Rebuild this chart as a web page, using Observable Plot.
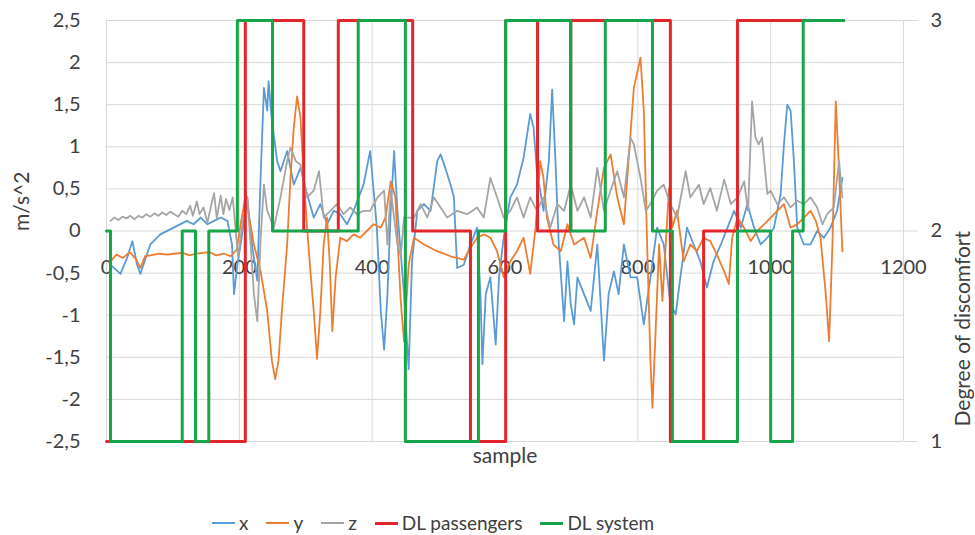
<!DOCTYPE html>
<html>
<head>
<meta charset="utf-8">
<script src="https://cdn.jsdelivr.net/npm/d3@7"></script>
<script src="https://cdn.jsdelivr.net/npm/@observablehq/plot@0.6"></script>
<style>
  html, body { margin: 0; padding: 0; background: #fff; }
  #chart { width: 975px; height: 535px; position: relative; font-family: Lato, "Open Sans", sans-serif; }
  .legend { display: flex; align-items: center; padding-left: 212px; padding-top: 21px; height: 24px; font-size: 19px; color: #404040; line-height: 22px; }
  .item { display: flex; align-items: center; margin-right: 18px; }
  .sw { display: inline-block; width: 23px; margin-right: 4px; }
</style>
</head>
<body>
<div id="chart"></div>
<script>
// ---- data ----
const xTicks = [0, 200, 400, 600, 800, 1000, 1200];
const yTicks = [-2.5, -2, -1.5, -1, -0.5, 0, 0.5, 1, 1.5, 2, 2.5];
const degreeTicks = [1, 2, 3];

const seriesNames = ["x", "y", "z", "DL passengers", "DL system"];
const seriesColors = ["#5B9BD5", "#ED7D31", "#A5A5A5", "#E3262B", "#16A64A"];

// acceleration x [sample, m/s^2]
const seriesX = [[6,-0.40],[21,-0.51],[31,-0.32],[39,-0.12],[46,-0.40],[51,-0.51],[59,-0.32],[66,-0.16],[81,-0.04],[101,0.04],[121,0.12],[131,0.08],[142,0.16],[152,0.08],[162,0.12],[172,0.16],[182,0.12],[189,-0.16],[192,-0.75],[197,-0.40],[202,-0.16],[212,0.40],[219,-0.16],[227,-0.59],[232,0.63],[237,1.70],[242,1.43],[244,1.78],[249,1.31],[257,0.83],[262,0.71],[272,0.95],[282,0.55],[292,0.75],[302,0.44],[312,0.16],[322,0.32],[332,0.08],[342,0.24],[352,0.20],[362,0.08],[372,0.24],[387,0.55],[397,0.95],[407,0.04],[413,-0.95],[418,-1.41],[423,-0.75],[428,0.24],[433,0.95],[438,0.24],[448,-0.75],[455,-1.64],[460,-0.36],[468,0.24],[478,0.32],[488,0.24],[498,0.83],[503,0.91],[510,0.75],[518,0.55],[523,0.40],[528,-0.44],[538,-0.40],[548,-0.16],[558,0.04],[563,-0.75],[566,-1.58],[571,-0.75],[578,-0.55],[586,-1.35],[591,-0.55],[598,-0.08],[608,0.40],[618,0.55],[628,0.87],[638,1.39],[643,1.23],[648,0.71],[653,0.48],[658,0.24],[666,0.83],[671,1.68],[676,0.83],[681,-0.16],[689,-1.07],[694,-0.36],[699,-0.87],[704,-1.11],[709,-0.55],[719,-0.75],[729,-0.95],[739,-0.16],[749,-1.54],[756,-0.75],[764,-0.48],[771,-0.75],[779,-0.16],[789,-0.55],[799,-0.55],[809,-1.11],[819,-0.55],[829,0.04],[839,-0.16],[849,-0.87],[857,-0.99],[864,-0.55],[874,0.04],[884,-0.16],[894,-0.36],[904,-0.67],[914,-0.36],[925,-0.16],[935,0.04],[945,0.24],[955,0.04],[965,0.32],[975,0.04],[985,-0.16],[995,-0.08],[1005,0.04],[1015,0.44],[1020,1.03],[1025,1.50],[1030,1.43],[1035,0.83],[1040,0.04],[1050,-0.16],[1060,-0.16],[1070,0.00],[1080,-0.08],[1090,0.04],[1100,0.24],[1108,0.63]];

// acceleration y
const seriesY = [[6,-0.36],[15,-0.28],[25,-0.32],[35,-0.25],[45,-0.34],[51,-0.44],[58,-0.30],[66,-0.29],[80,-0.27],[92,-0.28],[101,-0.27],[115,-0.26],[125,-0.29],[135,-0.27],[145,-0.26],[155,-0.25],[165,-0.29],[177,-0.27],[187,-0.30],[196,-0.22],[202,0.08],[210,0.45],[214,0.20],[222,-0.16],[232,-0.48],[242,-0.95],[249,-1.54],[254,-1.76],[259,-1.54],[264,-0.95],[272,-0.16],[277,0.63],[282,1.23],[287,1.60],[292,1.35],[297,0.63],[302,0.04],[307,-0.48],[312,-0.95],[317,-1.52],[322,-0.95],[327,-0.16],[332,0.16],[336,-0.36],[340,-1.19],[345,-0.55],[352,-0.08],[362,-0.12],[372,-0.04],[382,-0.08],[392,0.00],[402,0.08],[413,0.04],[420,0.16],[428,0.59],[435,0.40],[443,-0.83],[448,-1.31],[455,-0.40],[463,-0.08],[478,-0.16],[498,-0.24],[518,-0.30],[538,-0.34],[548,-0.20],[558,-0.08],[568,-0.04],[578,-0.08],[588,-0.24],[598,-0.55],[608,-0.36],[618,-0.24],[628,-0.08],[638,-0.51],[646,0.04],[653,0.83],[658,0.63],[663,0.16],[673,-0.16],[684,-0.24],[694,0.08],[704,-0.16],[719,-0.08],[729,-0.32],[739,0.24],[749,0.75],[759,0.91],[769,0.40],[779,0.08],[786,0.83],[794,1.70],[804,2.06],[809,1.43],[814,-0.16],[819,-1.54],[822,-2.10],[827,-1.15],[832,-0.16],[837,-0.83],[842,-0.16],[847,0.51],[852,0.04],[859,0.24],[869,-0.36],[879,-0.16],[889,-0.24],[899,-0.08],[909,-0.12],[919,-0.28],[930,-0.48],[937,-0.63],[942,-0.08],[950,0.16],[960,0.04],[970,-0.12],[980,0.00],[990,0.08],[1000,0.16],[1010,0.24],[1020,0.32],[1030,0.04],[1040,0.08],[1050,0.16],[1060,0.24],[1068,0.12],[1075,-0.08],[1083,-0.75],[1088,-1.31],[1093,-0.16],[1098,1.54],[1103,0.71],[1108,-0.24]];

// acceleration z
const seriesZ = [[6,0.12],[12,0.16],[18,0.13],[24,0.17],[30,0.15],[36,0.18],[42,0.14],[48,0.18],[54,0.16],[60,0.20],[66,0.17],[72,0.21],[78,0.18],[84,0.22],[90,0.19],[96,0.23],[102,0.20],[108,0.17],[114,0.24],[120,0.20],[126,0.30],[130,0.18],[136,0.35],[140,0.20],[146,0.28],[152,0.10],[158,0.32],[162,0.45],[166,0.15],[172,0.42],[176,0.20],[180,0.38],[185,0.25],[190,0.40],[194,0.05],[198,-0.30],[205,0.10],[212,0.40],[217,-0.16],[222,-0.75],[227,-1.07],[232,-0.10],[237,0.55],[242,0.24],[252,0.04],[262,0.40],[272,0.83],[277,0.99],[285,0.83],[292,0.79],[302,0.40],[312,0.48],[320,0.71],[327,0.16],[337,0.24],[347,0.32],[357,0.20],[367,0.28],[377,0.20],[387,0.24],[397,0.24],[408,0.40],[418,0.48],[423,-0.16],[428,0.48],[438,-0.16],[443,-0.30],[448,0.16],[463,0.16],[473,0.32],[483,0.16],[493,0.40],[503,0.28],[513,0.16],[528,0.24],[543,0.20],[558,0.28],[568,0.16],[578,0.63],[588,0.40],[598,0.16],[608,0.24],[618,0.40],[628,0.16],[638,0.40],[648,0.24],[658,0.40],[668,0.04],[679,0.32],[689,0.24],[699,0.55],[709,0.24],[719,0.40],[729,0.16],[739,0.75],[749,0.24],[759,0.48],[769,0.71],[779,0.40],[789,1.11],[794,1.03],[799,0.83],[804,0.63],[812,0.24],[819,0.32],[829,0.48],[839,0.55],[849,0.32],[859,0.16],[872,0.71],[879,0.40],[892,0.55],[899,0.32],[909,0.51],[919,0.24],[930,0.61],[940,0.32],[950,0.40],[960,0.59],[966,0.24],[972,1.54],[977,1.11],[982,1.03],[987,1.11],[995,0.44],[1000,0.48],[1010,0.32],[1020,0.40],[1030,0.28],[1040,0.36],[1050,0.32],[1060,0.40],[1070,0.28],[1078,0.08],[1085,0.20],[1095,0.28],[1103,0.83],[1108,0.40]];

// degree of discomfort: [sample where the level starts, level]
const dlPassengers = [[0,1],[209,3],[297,2],[349,3],[461,2],[548,1],[601,3],[649,2],[699,3],[849,1],[899,2],[950,3],[1110,3]];
const dlSystem = [[0,2],[6,1],[114,2],[134,1],[154,2],[197,3],[250,2],[379,3],[450,1],[560,2],[601,3],[699,2],[751,3],[822,2],[852,1],[950,2],[1000,1],[1033,2],[1049,3],[1110,3]];

// ---- chart ----
const toAccel = d => (d - 2) * 2.5;          // secondary axis 1..3 mapped onto -2.5..2.5
const fromAccel = v => v / 2.5 + 2;
const comma = v => String(v).replace(".", ",");

const plot = Plot.plot({
  width: 975,
  height: 490,
  marginLeft: 106,
  marginRight: 72,
  marginTop: 20,
  marginBottom: 49,
  style: { fontFamily: "Lato, 'Open Sans', sans-serif", fontSize: "20px", color: "#404040", background: "#fff" },
  x: { domain: [0, 1200], axis: null },
  y: { domain: [-2.5, 2.5] },
  marks: [
    Plot.gridY(yTicks, { stroke: "#d9d9d9", strokeOpacity: 1 }),
    Plot.gridX(xTicks, { stroke: "#d9d9d9", strokeOpacity: 1 }),
    Plot.axisY(yTicks, { anchor: "left", tickSize: 0, tickPadding: 26, tickFormat: comma, label: null, fontSize: 20 }),
    Plot.axisY(degreeTicks.map(toAccel), { anchor: "right", tickSize: 14, tickPadding: 13, stroke: "#d9d9d9", tickFormat: v => String(fromAccel(v)), label: null, fontSize: 20 }),
    Plot.text(xTicks, { x: d => d, y: () => 0, dy: 37, text: d => String(d), fontSize: 20, fill: "#404040" }),
    Plot.text(["m/s^2"], { frameAnchor: "left", dx: -84, rotate: -90, text: d => d, fontSize: 21, fill: "#404040" }),
    Plot.text(["Degree of discomfort"], { frameAnchor: "right", dx: 60, rotate: -90, text: d => d, fontSize: 21, fill: "#404040" }),
    Plot.text(["sample"], { frameAnchor: "bottom", dy: 21, text: d => d, fontSize: 21, fill: "#404040" }),
    Plot.line(seriesX, { x: d => d[0], y: d => d[1], stroke: seriesColors[0], strokeWidth: 1.8 }),
    Plot.line(seriesY, { x: d => d[0], y: d => d[1], stroke: seriesColors[1], strokeWidth: 1.8 }),
    Plot.line(seriesZ, { x: d => d[0], y: d => d[1], stroke: seriesColors[2], strokeWidth: 1.8 }),
    Plot.line(dlPassengers, { x: d => d[0], y: d => toAccel(d[1]), curve: "step-after", stroke: seriesColors[3], strokeWidth: 3 }),
    Plot.line(dlSystem, { x: d => d[0], y: d => toAccel(d[1]), curve: "step-after", stroke: seriesColors[4], strokeWidth: 3 })
  ]
});

const chart = document.getElementById("chart");
chart.appendChild(plot);

const legend = document.createElement("div");
legend.className = "legend";
seriesNames.forEach((name, i) => {
  const item = document.createElement("span");
  item.className = "item";
  const sw = document.createElement("span");
  sw.className = "sw";
  sw.style.borderTop = `${i < 3 ? 2 : 3}px solid ${seriesColors[i]}`;
  const label = document.createElement("span");
  label.textContent = name;
  item.appendChild(sw);
  item.appendChild(label);
  legend.appendChild(item);
});
chart.appendChild(legend);
</script>
</body>
</html>
